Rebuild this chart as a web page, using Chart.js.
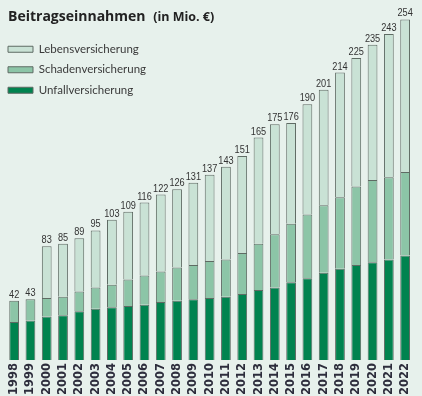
<!DOCTYPE html>
<html>
<head>
<meta charset="utf-8">
<script src="https://cdn.jsdelivr.net/npm/chart.js@4.4.1/dist/chart.umd.min.js"></script>
<style>
  html, body { margin: 0; padding: 0; background: #ffffff; }
  #wrap { position: relative; width: 422px; height: 396px; background: #e7f1ec; overflow: hidden; }
  #title { position: absolute; left: 8px; top: 6px; font-family: "Open Sans", sans-serif; font-weight: 700; font-size: 14px; color: #222; white-space: nowrap; letter-spacing: 0; }
  #title span { font-size: 12.5px; margin-left: 4px; }
  canvas { position: absolute; left: 0; top: 0; }
</style>
</head>
<body>
<div id="wrap">
  <canvas id="c" width="422" height="396"></canvas>
  <div id="title">Beitragseinnahmen <span>(in Mio. €)</span></div>
</div>
<script>
const years = ["1998","1999","2000","2001","2002","2003","2004","2005","2006","2007","2008","2009","2010","2011","2012","2013","2014","2015","2016","2017","2018","2019","2020","2021","2022"];
const unfall  = [26,27,30,31,34,36,37,38,39,41,42,43,44,45,47,50,52,56,59,63,66,69,71,73,76];
const schaden = [16,16,14,14,15,16,17,20,22,23,25,26,28,28,31,35,40,44,48,51,54,59,62,62,63];
const leben   = [0,0,39,40,40,43,49,51,55,58,59,62,65,70,73,80,83,76,83,87,94,97,102,108,115];
const totals  = [42,43,83,85,89,95,103,109,116,122,126,131,137,143,151,165,175,176,190,201,214,225,235,243,254];
const seriesNames = ["Unfallversicherung","Schadenversicherung","Lebensversicherung"];

const BORDER = "#5f6b64";
const AXIS_MIN = -2.7;

const totalLabels = {
  id: "totalLabels",
  afterDatasetsDraw(chart) {
    const ctx = chart.ctx;
    const x = chart.scales.x, y = chart.scales.y;
    const sx = 0.8;
    ctx.save();
    ctx.font = '11.5px "Liberation Sans", sans-serif';
    ctx.fillStyle = "#333333";
    ctx.textAlign = "center";
    ctx.textBaseline = "alphabetic";
    totals.forEach((t, i) => {
      const px = x.getPixelForValue(i), py = y.getPixelForValue(t) - 3;
      ctx.save();
      ctx.translate(px, py);
      ctx.scale(sx, 1);
      ctx.fillText(String(t), 0, 0);
      ctx.restore();
    });
    ctx.restore();
  }
};

const legendPlace = {
  id: "legendPlace",
  afterLayout(chart) {
    const lg = chart.legend;
    if (!lg) return;
    lg.left = -1; lg.top = 34.5; lg.right = 220; lg.bottom = 120;
    lg.width = lg.right - lg.left; lg.height = lg.bottom - lg.top;
  }
};

new Chart(document.getElementById("c"), {
  type: "bar",
  data: {
    labels: years,
    datasets: [
      { label: seriesNames[0], data: unfall,  backgroundColor: "#00834f", borderColor: BORDER, borderWidth: 1, base: AXIS_MIN },
      { label: seriesNames[1], data: schaden, backgroundColor: "#8cc5a7", borderColor: BORDER, borderWidth: 1 },
      { label: seriesNames[2], data: leben,   backgroundColor: "#c9e2d5", borderColor: BORDER, borderWidth: 1 }
    ]
  },
  options: {
    responsive: false,
    animation: false,
    devicePixelRatio: 1,
    layout: { padding: { left: 6, right: 3, top: 11.5, bottom: 0 } },
    datasets: { bar: { barPercentage: 0.6, categoryPercentage: 1.0 } },
    scales: {
      x: {
        stacked: true,
        grid: { display: false, drawTicks: false },
        border: { display: false },
        ticks: {
          autoSkip: false, minRotation: 90, maxRotation: 90, padding: 3,
          color: "#2d2d3c",
          font: { family: '"DejaVu Sans", sans-serif', weight: "bold", size: 11.5 }
        },
        afterFit(s) { s.height = 36; }
      },
      y: {
        stacked: true, display: false, min: AXIS_MIN, max: 260
      }
    },
    plugins: {
      tooltip: { enabled: false },
      title: { display: false },
      legend: {
        display: true,
        position: "chartArea",
        align: "start",
        reverse: true,
        labels: {
          boxWidth: 25, boxHeight: 6, padding: 9,
          color: "#3a3a3a",
          font: { family: "Lato, sans-serif", size: 11.5 }
        }
      }
    }
  },
  plugins: [totalLabels, legendPlace]
});
</script>
</body>
</html>
